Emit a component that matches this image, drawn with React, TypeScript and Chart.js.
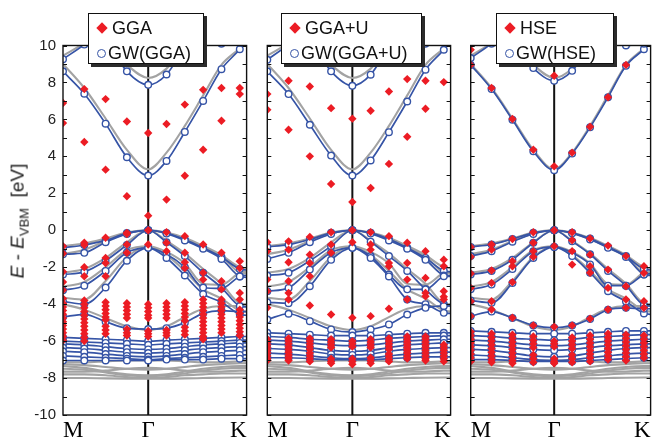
import React, { useEffect, useRef } from 'react';
import { Chart, registerables } from 'chart.js';

Chart.register(...registerables);

// ---------- k-path (M -> Γ -> K), sampled points + K end ----------
const K_PATH = [0, 0.25, 0.5, 0.75, 1, 1.215, 1.43, 1.645, 1.86, 2.075, 2.155];
const SAMPLED = 10;
const K_TICK_VALUES = [0, 1, 2.155];
const K_TICK_LABELS = ['M', 'Γ', 'K'];
const GAMMA_X = 1;
const Y_MIN = -10;
const Y_MAX = 10;
const Y_TICK_MARKS = [-10, -9, -8, -7, -6, -5, -4, -3, -2, -1, 0, 1, 2, 3, 4, 5, 6, 7, 8, 9, 10];

// ---------- gray reference bands (same in every panel) ----------
const REF_CONDUCTION = [
  [9.0, 7.7, 6.05, 4.35, 3.3, 4.2, 5.65, 7.3, 8.95, 9.85, 10.25],
  [11.6, 10.9, 10.1, 8.95, 8.24, 8.75, 10.0, 11.3, 12.0, 12.0, 12.0],
  [9.45, 10.15, 11.2, 12.0, 12.5, 12.5, 12.0, 11.0, 10.15, 10.05, 10.05],
];
const REF_VALENCE = [
  [-0.85, -0.72, -0.45, -0.13, 0, -0.13, -0.42, -0.85, -1.35, -2.0, -2.05],
  [-1.3, -1.05, -0.58, -0.18, 0, -0.16, -0.48, -0.92, -1.42, -2.3, -2.35],
  [-2.3, -2.1, -1.5, -0.65, 0, -0.57, -1.25, -2.1, -2.9, -3.95, -4.0],
  [-3.05, -2.8, -2.0, -1.08, -0.87, -1.17, -1.8, -2.9, -2.95, -2.3, -2.25],
  [-3.65, -3.75, -2.75, -1.45, -0.87, -1.35, -2.2, -3.2, -3.7, -4.35, -4.4],
  [-4.0, -4.3, -4.75, -5.2, -5.4, -5.2, -4.7, -4.25, -4.1, -4.1, -4.1],
];
const REF_DBANDS = [
  [-7.15, -7.15, -7.1, -7.05, -7.05, -7.05, -7.1, -7.15, -7.15, -7.1, -7.1],
  [-7.25, -7.3, -7.4, -7.5, -7.55, -7.5, -7.4, -7.3, -7.25, -7.2, -7.2],
  [-7.35, -7.45, -7.65, -7.8, -7.85, -7.8, -7.65, -7.5, -7.4, -7.35, -7.35],
  [-7.5, -7.55, -7.7, -7.85, -7.9, -7.85, -7.75, -7.6, -7.5, -7.45, -7.45],
  [-7.65, -7.65, -7.6, -7.5, -7.45, -7.5, -7.6, -7.65, -7.65, -7.6, -7.6],
  [-7.8, -7.8, -7.85, -7.95, -8.0, -7.95, -7.85, -7.8, -7.75, -7.75, -7.75],
  [-8.0, -8.0, -8.02, -8.03, -8.03, -8.03, -8.02, -8.0, -7.98, -7.97, -7.97],
];

// ---------- GW(GGA) ----------
const GW_GGA_CONDUCTION = [
  [8.6, 7.39, 5.77, 3.95, 2.96, 3.75, 5.32, 7.0, 8.72, 9.8, 10.3],
  [11.8, 11.1, 10.3, 8.6, 7.87, 8.43, 9.95, 11.2, 12.0, 12.0, 12.0],
  [9.26, 10.05, 11.0, 12.0, 12.5, 12.5, 12.0, 11.0, 10.1, 10.15, 10.15],
];
const GW_GGA_VALENCE = [
  [-0.95, -0.8, -0.55, -0.15, 0, -0.15, -0.5, -0.95, -1.45, -2.1, -2.15],
  [-1.3, -1.22, -0.65, -0.2, 0, -0.18, -0.55, -1.0, -1.55, -2.5, -2.55],
  [-2.4, -2.25, -1.65, -0.8, 0, -0.65, -1.4, -2.3, -3.1, -4.1, -4.15],
  [-3.25, -3.0, -2.2, -1.2, -0.95, -1.3, -2.0, -3.1, -3.15, -2.5, -2.45],
  [-3.85, -4.0, -3.1, -1.65, -0.95, -1.5, -2.45, -3.45, -3.9, -4.55, -4.6],
  [-4.7, -4.55, -4.95, -5.3, -5.35, -5.3, -5.0, -4.5, -4.35, -4.4, -4.4],
];
const GW_GGA_DBANDS = [
  [-5.8, -5.85, -5.9, -5.95, -6.0, -5.95, -5.9, -5.85, -5.8, -5.75, -5.75],
  [-6.0, -6.05, -6.1, -6.15, -6.2, -6.15, -6.1, -6.05, -6.0, -5.95, -5.95],
  [-6.15, -6.2, -6.3, -6.4, -6.45, -6.4, -6.3, -6.2, -6.15, -6.1, -6.1],
  [-6.35, -6.4, -6.5, -6.6, -6.65, -6.6, -6.5, -6.4, -6.35, -6.3, -6.3],
  [-6.55, -6.6, -6.7, -6.8, -6.85, -6.8, -6.7, -6.6, -6.55, -6.5, -6.5],
  [-6.8, -6.85, -6.9, -6.95, -7.0, -6.95, -6.9, -6.85, -6.8, -6.75, -6.75],
  [-7.05, -7.05, -7.05, -7.05, -7.05, -7.0, -7.0, -7.0, -6.95, -6.95, -6.95],
];

// ---------- GW(GGA+U) ----------
const GW_GGAU_CONDUCTION = [
  [8.6, 7.37, 5.71, 4.04, 2.96, 3.78, 5.31, 6.97, 8.69, 9.77, 10.25],
  [11.8, 11.1, 10.3, 8.6, 7.82, 8.42, 9.95, 11.2, 12.0, 12.0, 12.0],
  [9.23, 10.05, 11.0, 12.0, 12.5, 12.5, 12.0, 11.0, 10.1, 10.15, 10.15],
];
const GW_GGAU_VALENCE = [
  [-0.9, -0.78, -0.5, -0.14, 0, -0.14, -0.47, -0.95, -1.5, -2.2, -2.25],
  [-1.55, -1.22, -0.65, -0.2, 0, -0.18, -0.55, -1.0, -1.6, -2.45, -2.5],
  [-2.45, -2.3, -1.65, -0.86, 0, -0.62, -1.4, -2.2, -3.2, -4.0, -4.05],
  [-3.3, -3.12, -2.13, -1.2, -0.95, -1.4, -2.4, -3.2, -3.2, -2.49, -2.45],
  [-3.9, -3.95, -3.03, -1.6, -0.95, -1.5, -2.5, -3.75, -4.0, -4.47, -4.5],
  [-4.83, -4.52, -4.92, -5.37, -5.51, -5.37, -5.1, -4.56, -4.2, -4.1, -4.1],
];
const GW_GGAU_DBANDS = [
  [-5.55, -5.6, -5.65, -5.7, -5.7, -5.7, -5.65, -5.6, -5.55, -5.55, -5.55],
  [-5.75, -5.8, -5.9, -5.95, -6.0, -5.95, -5.85, -5.8, -5.75, -5.7, -5.7],
  [-5.95, -6.0, -6.1, -6.2, -6.25, -6.2, -6.1, -6.0, -5.95, -5.9, -5.9],
  [-6.15, -6.2, -6.35, -6.5, -6.55, -6.5, -6.35, -6.2, -6.15, -6.1, -6.1],
  [-6.4, -6.45, -6.55, -6.7, -6.75, -6.7, -6.55, -6.45, -6.4, -6.35, -6.35],
  [-6.65, -6.7, -6.8, -6.9, -6.95, -6.9, -6.8, -6.7, -6.65, -6.6, -6.6],
  [-6.9, -6.9, -6.95, -7.0, -7.0, -7.0, -6.95, -6.9, -6.85, -6.85, -6.85],
];

// ---------- GW(HSE) ----------
const GW_HSE_CONDUCTION = [
  [8.95, 7.64, 5.98, 4.27, 3.25, 4.15, 5.57, 7.2, 8.9, 9.8, 10.2],
  [11.7, 11.0, 10.2, 8.78, 8.09, 8.63, 10.0, 11.3, 12.0, 12.0, 12.0],
  [9.32, 10.1, 11.0, 12.0, 12.5, 12.5, 12.0, 11.0, 10.0, 10.1, 10.1],
];
const GW_HSE_VALENCE = [
  [-0.9, -0.77, -0.47, -0.14, 0, -0.14, -0.45, -0.9, -1.4, -2.1, -2.15],
  [-1.4, -1.13, -0.62, -0.2, 0, -0.16, -0.5, -0.95, -1.45, -2.4, -2.45],
  [-2.4, -2.2, -1.6, -0.68, 0, -0.6, -1.3, -2.2, -3.0, -4.05, -4.1],
  [-3.2, -2.94, -2.1, -1.13, -0.9, -1.22, -1.85, -3.0, -3.0, -2.4, -2.35],
  [-3.8, -3.93, -2.85, -1.5, -0.9, -1.4, -2.3, -3.3, -3.85, -4.5, -4.55],
  [-4.65, -4.4, -4.75, -5.15, -5.28, -5.15, -4.8, -4.3, -4.2, -4.25, -4.25],
];
const GW_HSE_DBANDS = [
  [-5.45, -5.5, -5.55, -5.6, -5.6, -5.6, -5.55, -5.5, -5.45, -5.45, -5.45],
  [-5.7, -5.75, -5.85, -5.9, -5.95, -5.9, -5.8, -5.75, -5.7, -5.65, -5.65],
  [-5.95, -6.0, -6.1, -6.2, -6.25, -6.2, -6.1, -6.0, -5.95, -5.9, -5.9],
  [-6.2, -6.25, -6.35, -6.45, -6.5, -6.45, -6.35, -6.25, -6.2, -6.15, -6.15],
  [-6.45, -6.5, -6.65, -6.8, -6.85, -6.8, -6.65, -6.5, -6.4, -6.35, -6.35],
  [-6.75, -6.8, -6.9, -7.0, -7.05, -7.0, -6.9, -6.8, -6.7, -6.65, -6.65],
  [-7.0, -7.0, -7.05, -7.1, -7.1, -7.1, -7.05, -7.0, -6.95, -6.9, -6.9],
];

// ---------- DFT eigenvalues (red diamonds), one list per sampled k-point ----------
const GGA_COLUMNS = [
  [6.89, 5.8, -0.87, -1.26, -2.25, -2.8, -3.24, -3.7, -3.95, -4.15, -4.35, -4.55, -4.75, -4.95, -5.15, -5.35, -5.55, -5.75, -5.95],
  [7.64, 4.78, -0.68, -0.8, -2.0, -2.49, -3.8, -4.0, -4.2, -4.4, -4.6, -4.8, -5.0, -5.2, -5.4, -5.6, -5.8, -6.0],
  [7.1, 3.28, -0.41, -1.5, -1.77, -2.49, -3.9, -4.1, -4.3, -4.5, -4.7, -4.85, -5.2, -5.4, -5.6],
  [5.89, 1.84, -0.14, -0.2, -0.77, -1.22, -3.95, -4.15, -4.35, -4.55, -4.75, -5.35, -5.55, -5.7],
  [5.26, 0.79, 0, -0.77, -4.0, -4.2, -4.4, -4.6, -4.75, -5.45, -5.6, -5.75],
  [5.75, 1.66, -0.11, -0.68, -1.13, -3.95, -4.15, -4.35, -4.55, -4.75, -5.4, -5.55, -5.7],
  [6.8, 2.95, -0.32, -1.22, -1.73, -2.04, -3.9, -4.1, -4.3, -4.5, -4.7, -4.9, -5.25, -5.45, -5.65],
  [7.6, 4.36, -0.77, -2.3, -2.67, -3.75, -3.95, -4.15, -4.35, -4.55, -4.75, -4.95, -5.15, -5.35, -5.55, -5.75, -5.9],
  [7.7, 5.93, -1.22, -2.76, -3.2, -3.75, -3.95, -4.15, -4.35, -4.55, -4.75, -4.95, -5.15, -5.35, -5.55],
  [7.7, 7.37, -1.68, -2.04, -3.39, -3.75, -4.3, -4.5, -4.7, -4.9, -5.1, -5.3, -5.5, -5.7],
];
const GGAU_COLUMNS = [
  [7.37, 6.52, -0.65, -1.13, -2.67, -3.3, -4.2, -5.9, -6.05, -6.2, -6.35, -6.5, -6.65, -6.8, -6.95, -7.05],
  [8.09, 5.44, -0.6, -1.05, -1.73, -2.76, -3.39, -3.75, -5.85, -6.0, -6.15, -6.3, -6.45, -6.6, -6.75, -6.9, -7.05],
  [7.78, 4.0, -0.36, -1.32, -1.77, -2.49, -4.07, -5.85, -6.0, -6.15, -6.3, -6.45, -6.65, -6.8, -6.95, -7.1],
  [6.61, 2.5, -0.11, -0.77, -1.22, -4.56, -5.9, -6.05, -6.2, -6.35, -6.95, -7.1, -7.2],
  [6.04, 1.53, 0, -0.65, -4.74, -6.0, -6.15, -6.3, -6.95, -7.1, -7.25],
  [6.47, 2.29, -0.11, -0.77, -1.05, -4.65, -5.9, -6.05, -6.2, -6.35, -6.9, -7.05, -7.2],
  [7.51, 3.59, -0.32, -1.77, -1.95, -4.25, -5.85, -6.0, -6.15, -6.3, -6.45, -6.7, -6.85, -7.0, -7.1],
  [8.18, 5.06, -0.68, -1.77, -2.67, -3.75, -5.75, -5.9, -6.05, -6.2, -6.35, -6.5, -6.65, -6.8, -6.95],
  [8.09, 6.58, -1.13, -2.58, -3.4, -3.57, -5.75, -5.9, -6.05, -6.2, -6.35, -6.5, -6.65, -6.8, -6.95, -7.05],
  [8.02, -1.59, -1.95, -3.3, -3.6, -3.75, -6.2, -6.35, -6.5, -6.65, -6.8, -6.95, -7.1],
];
const HSE_COLUMNS = [
  [9.77, 8.95, -0.9, -1.44, -2.34, -3.12, -3.84, -4.65, -5.5, -5.7, -5.9, -6.1, -6.3, -6.5, -6.7, -6.9, -7.1],
  [7.7, -0.77, -1.05, -2.18, -2.85, -3.84, -4.29, -5.6, -5.8, -6.0, -6.2, -6.4, -6.6, -6.8, -7.0, -7.15],
  [6.02, -0.47, -1.68, -1.95, -2.81, -4.74, -5.65, -5.85, -6.05, -6.25, -6.45, -6.65, -6.85, -7.05, -7.2],
  [4.36, -0.11, -0.68, -1.13, -1.44, -5.15, -5.75, -5.95, -6.15, -6.35, -6.75, -6.95, -7.15],
  [3.46, 8.36, 0, -0.86, -5.23, -6.0, -6.15, -6.3, -6.95, -7.1, -7.2],
  [4.2, -0.11, -0.54, -1.13, -1.86, -5.15, -5.8, -6.0, -6.2, -6.4, -6.75, -6.95, -7.15],
  [5.6, -0.45, -1.32, -1.95, -2.3, -4.79, -5.7, -5.9, -6.1, -6.3, -6.5, -6.7, -6.9, -7.1],
  [7.2, -0.83, -2.13, -3.12, -4.29, -5.6, -5.8, -6.0, -6.2, -6.4, -6.6, -6.8, -7.0],
  [8.95, -1.4, -3.03, -3.75, -4.2, -5.65, -5.85, -6.05, -6.25, -6.45, -6.65, -6.85, -7.05],
  [-1.95, -2.31, -3.84, -4.2, -5.7, -5.9, -6.1, -6.3, -6.5, -6.7, -6.9],
];

const DFT_LABELS = ['GGA', 'GGA+U', 'HSE'];
const GW_LABELS = ['GW(GGA)', 'GW(GGA+U)', 'GW(HSE)'];

// ---------- styles / layout ----------
const RED = '#ec1c24';
const BLUE = '#3654a6';
const GRAY = '#a3a3a3';
const SANS = '"Liberation Sans", Arial, Helvetica, sans-serif';
const SERIF = '"Liberation Serif", "Times New Roman", serif';

const PANEL_LAYOUT = [
  { left: 0, width: 252, padL: 0, padR: 3, yAxis: true, legend: { left: 88, width: 116 } },
  { left: 256, width: 200, padL: 11.3, padR: 3.7, yAxis: false, legend: { left: 281, width: 141 } },
  { left: 460, width: 196, padL: 10.7, padR: 0.6, yAxis: false, legend: { left: 496, width: 118 } },
];

const GW_SETS = [
  [GW_GGA_CONDUCTION, GW_GGA_VALENCE, GW_GGA_DBANDS],
  [GW_GGAU_CONDUCTION, GW_GGAU_VALENCE, GW_GGAU_DBANDS],
  [GW_HSE_CONDUCTION, GW_HSE_VALENCE, GW_HSE_DBANDS],
];
const DFT_SETS = [GGA_COLUMNS, GGAU_COLUMNS, HSE_COLUMNS];

const framePlugin = {
  id: 'bandFrame',
  beforeDatasetsDraw(chart: any) {
    const { ctx, chartArea: a, scales } = chart;
    const gx = scales.x.getPixelForValue(GAMMA_X);
    ctx.save();
    ctx.strokeStyle = '#111';
    ctx.lineWidth = 2;
    ctx.beginPath();
    ctx.moveTo(gx, a.top);
    ctx.lineTo(gx, a.bottom);
    ctx.stroke();
    ctx.restore();
  },
  afterDatasetsDraw(chart: any) {
    const { ctx, chartArea: a, scales } = chart;
    ctx.save();
    ctx.strokeStyle = '#111';
    ctx.lineWidth = 1;
    ctx.beginPath();
    for (const v of Y_TICK_MARKS) {
      const py = Math.round(scales.y.getPixelForValue(v)) + 0.5;
      ctx.moveTo(a.left, py);
      ctx.lineTo(a.left + 4, py);
      ctx.moveTo(a.right, py);
      ctx.lineTo(a.right - 4, py);
    }
    ctx.stroke();
    ctx.lineWidth = 1.4;
    ctx.strokeRect(a.left, a.top, a.right - a.left, a.bottom - a.top);
    ctx.restore();
  },
};

function bandPoints(band: number[]) {
  return band.map((y, i) => ({ x: K_PATH[i], y }));
}

function buildChart(canvas: HTMLCanvasElement, idx: number) {
  const layout = PANEL_LAYOUT[idx];
  const gwBands = GW_SETS[idx].flat();
  const refBands = [...REF_CONDUCTION, ...REF_VALENCE, ...REF_DBANDS];
  const redPts = DFT_SETS[idx].flatMap((col, i) => col.map((y) => ({ x: K_PATH[i], y })));
  const circlePts = gwBands.flatMap((b) => bandPoints(b).slice(0, SAMPLED));

  const lineDs = (band: number[], color: string, width: number, order: number) => ({
    data: bandPoints(band),
    showLine: true,
    borderColor: color,
    backgroundColor: color,
    borderWidth: width,
    pointRadius: 0,
    pointHoverRadius: 0,
    cubicInterpolationMode: 'monotone',
    order,
  });

  const datasets: any[] = [
    {
      data: redPts,
      pointStyle: 'rectRot',
      pointRadius: 4.2,
      pointBorderWidth: 0,
      backgroundColor: RED,
      borderColor: RED,
      borderWidth: 0,
      order: 1,
    },
    {
      data: circlePts,
      pointStyle: 'circle',
      pointRadius: 3.3,
      backgroundColor: '#ffffff',
      borderColor: BLUE,
      borderWidth: 1.4,
      order: 2,
    },
    ...gwBands.map((b) => lineDs(b, BLUE, 1.7, 3)),
    ...refBands.map((b) => lineDs(b, GRAY, 2.1, 4)),
  ];

  return new Chart(canvas, {
    type: 'scatter',
    data: { datasets },
    options: {
      animation: false,
      responsive: false,
      devicePixelRatio: 1,
      events: [],
      layout: { padding: { left: layout.padL, right: layout.padR, top: 45.5, bottom: 0 } },
      plugins: { legend: { display: false }, tooltip: { enabled: false } },
      scales: {
        x: {
          type: 'linear',
          min: K_PATH[0],
          max: K_PATH[K_PATH.length - 1],
          grid: { display: false, drawTicks: false },
          border: { display: false },
          afterBuildTicks: (s: any) => {
            s.ticks = K_TICK_VALUES.map((value) => ({ value }));
          },
          afterFit: (s: any) => {
            s.height = 25;
          },
          ticks: {
            autoSkip: false,
            maxRotation: 0,
            align: 'inner',
            padding: 2,
            color: '#000',
            font: { family: SERIF, size: 23 },
            callback: (_v: any, i: number) => K_TICK_LABELS[i],
          },
        },
        y: {
          type: 'linear',
          min: Y_MIN,
          max: Y_MAX,
          display: layout.yAxis,
          grid: { display: false, drawTicks: false },
          border: { display: false },
          afterFit: (s: any) => {
            s.width = layout.yAxis ? 63 : 0;
          },
          ticks: {
            stepSize: 2,
            padding: 7,
            color: '#222',
            font: { family: SANS, size: 15 },
          },
        },
      },
    } as any,
    plugins: [framePlugin],
  });
}

function Panel({ idx }: { idx: number }) {
  const ref = useRef<HTMLCanvasElement | null>(null);
  const layout = PANEL_LAYOUT[idx];
  useEffect(() => {
    if (!ref.current) return;
    const chart = buildChart(ref.current, idx);
    return () => chart.destroy();
  }, [idx]);
  return (
    <canvas
      ref={ref}
      width={layout.width}
      height={440}
      style={{ position: 'absolute', left: layout.left, top: 0, width: layout.width, height: 440 }}
    />
  );
}

function LegendBox({ idx }: { idx: number }) {
  const { left, width } = PANEL_LAYOUT[idx].legend;
  const top = 13;
  const textStyle: React.CSSProperties = {
    position: 'absolute',
    fontFamily: SANS,
    fontSize: 18,
    lineHeight: '22px',
    color: '#111',
    whiteSpace: 'nowrap',
  };
  return (
    <div
      style={{
        position: 'absolute',
        left,
        top,
        width,
        height: 51,
        boxSizing: 'border-box',
        background: '#fff',
        border: '1.3px solid #111',
        boxShadow: '3px 3px 0 #2b2b2b',
      }}
    >
      <div
        style={{
          position: 'absolute',
          left: 12.5 - 4,
          top: 14.3 - 4,
          width: 8,
          height: 8,
          background: RED,
          transform: 'rotate(45deg)',
        }}
      />
      <div style={{ ...textStyle, left: 23, top: 14.3 - 11 }}>{DFT_LABELS[idx]}</div>
      <div
        style={{
          position: 'absolute',
          left: 12.5 - 4.5,
          top: 39 - 4.5,
          width: 9,
          height: 9,
          boxSizing: 'border-box',
          border: `1.8px solid ${BLUE}`,
          borderRadius: '50%',
          background: '#fff',
        }}
      />
      <div style={{ ...textStyle, left: 19, top: 39 - 11 }}>{GW_LABELS[idx]}</div>
    </div>
  );
}

export default function App() {
  return (
    <div
      style={{
        position: 'absolute',
        left: 0,
        top: 0,
        width: 656,
        height: 440,
        background: '#fff',
        overflow: 'hidden',
      }}
    >
      {PANEL_LAYOUT.map((_, i) => (
        <Panel key={i} idx={i} />
      ))}
      {PANEL_LAYOUT.map((_, i) => (
        <LegendBox key={'l' + i} idx={i} />
      ))}
      <div
        style={{
          position: 'absolute',
          left: 19,
          top: 221,
          transform: 'translate(-50%, -50%) rotate(-90deg)',
          whiteSpace: 'nowrap',
          fontFamily: SANS,
          fontSize: 19,
          color: '#222',
        }}
      >
        <i>E</i> - <i>E</i>
        <sub style={{ fontSize: 13 }}>VBM</sub>&nbsp; [eV]
      </div>
    </div>
  );
}
